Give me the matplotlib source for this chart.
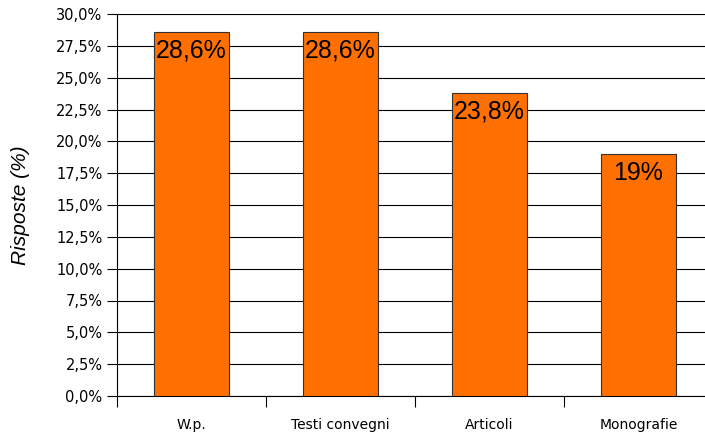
import numpy as np
from matplotlib import pyplot as plt
from matplotlib.ticker import FixedLocator, FuncFormatter

plt.rcParams['font.family'] = ['DejaVu Sans']

categories = ["W.p.", "Testi convegni", "Articoli", "Monografie"]
values = [28.6, 28.6, 23.8, 19.0]
value_labels = ["28,6%", "28,6%", "23,8%", "19%"]

fig = plt.figure(figsize=(7.05, 4.33), dpi=100)
ax = fig.add_axes([117 / 705, 37 / 433, 596 / 705, 382 / 433])

x = np.arange(len(categories))
ax.bar(x, values, width=0.5, color="#ff7000", edgecolor="#333333", linewidth=0.8, zorder=3)

ax.set_xlim(-0.5, len(categories) - 0.5)
ax.set_ylim(0, 30)
ax.yaxis.set_major_locator(FixedLocator(np.arange(0, 30.1, 2.5)))
ax.yaxis.set_major_formatter(FuncFormatter(lambda v, p: ("%.1f%%" % v).replace(".", ",")))
ax.grid(axis="y", color="black", linewidth=0.8, zorder=0)

# ticks at category boundaries, labels at centres
ax.xaxis.set_major_locator(FixedLocator(np.arange(-0.5, len(categories), 1.0)))
ax.xaxis.set_major_formatter(FuncFormatter(lambda v, p: ""))
ax.xaxis.set_minor_locator(FixedLocator(x))
ax.set_xticklabels(categories, minor=True)
ax.tick_params(axis="x", which="major", length=8, width=0.8, direction="out")
ax.tick_params(axis="x", which="minor", length=0, pad=16, labelsize=10)
ax.tick_params(axis="y", length=7, width=0.8, labelsize=10.5)

for s in ["top", "right"]:
    ax.spines[s].set_visible(False)
ax.spines["left"].set_linewidth(0.8)
ax.spines["bottom"].set_linewidth(0.8)

for xi, v, lab in zip(x, values, value_labels):
    ax.text(xi, v - 1.45, lab, ha="center", va="center", fontsize=18,
            family="Liberation Sans", zorder=4)

ax.set_ylabel("Risposte (%)", fontsize=15, style="italic", family="Liberation Sans", labelpad=19)

fig.savefig("out.png", dpi=100)
